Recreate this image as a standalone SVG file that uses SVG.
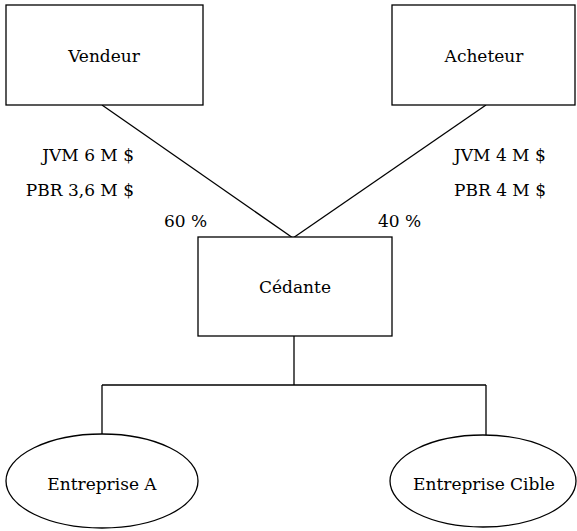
<svg xmlns="http://www.w3.org/2000/svg" width="577" height="531" viewBox="0 0 577 531">
  <style>
    .box { fill: #ffffff; stroke: #000000; stroke-width: 1.3; }
    .wire { fill: none; stroke: #000000; stroke-width: 1.3; }
    text { font-family: "DejaVu Serif", serif; font-size: 17px; fill: #000000; }
    .c { text-anchor: middle; }
    .r { text-anchor: end; }
  </style>
  <rect width="577" height="531" fill="#ffffff"/>

  <g id="connectors">
    <line class="wire" x1="102" y1="105" x2="293" y2="238"/>
    <line class="wire" x1="486" y1="105" x2="293" y2="238"/>
    <line class="wire" x1="294" y1="336" x2="294" y2="385"/>
    <line class="wire" x1="102" y1="385" x2="486" y2="385"/>
    <line class="wire" x1="102" y1="385" x2="102" y2="434"/>
    <line class="wire" x1="486" y1="385" x2="486" y2="435"/>
  </g>

  <g id="labels">
    <text class="r" x="134" y="161">JVM 6 M $</text>
    <text class="r" x="134" y="196">PBR 3,6 M $</text>
    <text x="164" y="227">60 %</text>
    <text x="378" y="227">40 %</text>
    <text x="454" y="161">JVM 4 M $</text>
    <text x="454" y="196">PBR 4 M $</text>
  </g>

  <g id="vendeur">
    <rect class="box" x="6" y="5" width="197" height="100"/>
    <text class="c" x="104" y="62">Vendeur</text>
  </g>

  <g id="acheteur">
    <rect class="box" x="392" y="5" width="183" height="100"/>
    <text class="c" x="484" y="62">Acheteur</text>
  </g>

  <g id="cedante">
    <rect class="box" x="198" y="237" width="194" height="99"/>
    <text class="c" x="295" y="293">Cédante</text>
  </g>

  <g id="entreprise-a">
    <ellipse class="box" cx="102" cy="481" rx="96" ry="47"/>
    <text class="c" x="102" y="490">Entreprise A</text>
  </g>

  <g id="entreprise-cible">
    <ellipse class="box" cx="483" cy="481" rx="93" ry="46"/>
    <text class="c" x="484" y="490">Entreprise Cible</text>
  </g>
</svg>
